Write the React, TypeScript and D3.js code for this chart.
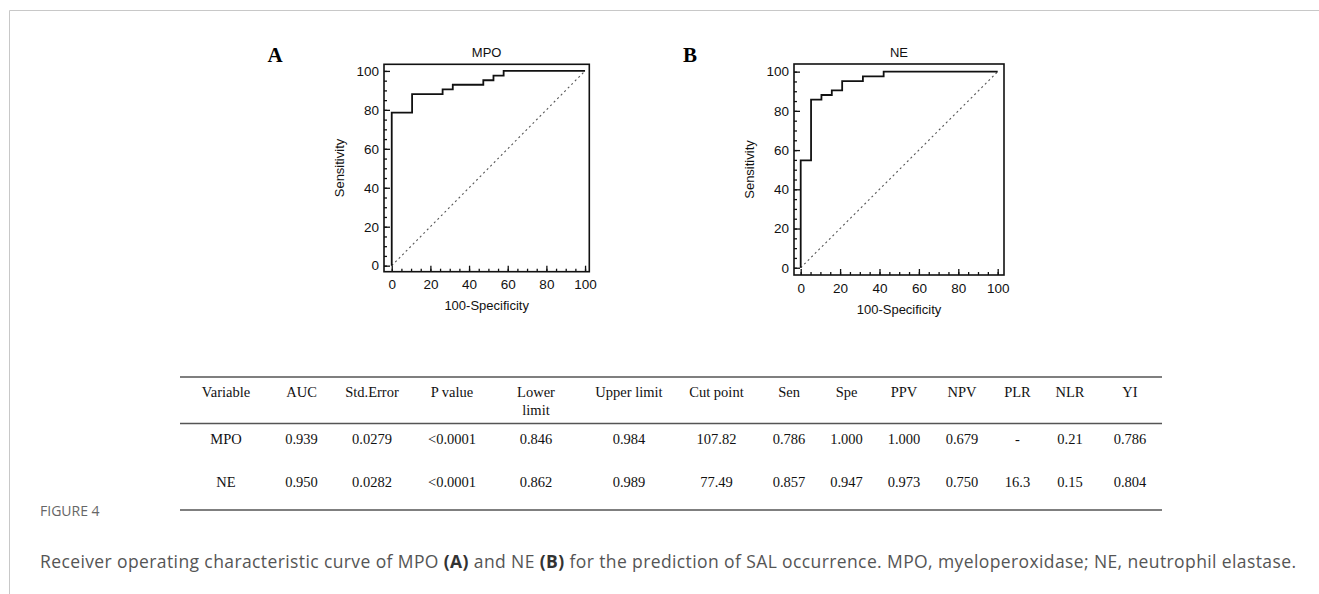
import React, { useEffect, useRef } from 'react';
import * as d3 from 'd3';

// ROC corner points (100-Specificity, Sensitivity)
const mpoFpr = [0, 0, 10.53, 26.32, 31.58, 47.37, 52.63, 57.89, 100];
const mpoSens = [0, 78.6, 88.1, 90.5, 92.9, 95.2, 97.6, 100, 100];
const neFpr = [0, 0, 5.26, 10.53, 15.79, 21.05, 31.58, 42.11, 100];
const neSens = [0, 54.8, 85.7, 88.1, 90.5, 95.2, 97.6, 100, 100];
const majorTicks = [0, 20, 40, 60, 80, 100];
const minorTicks = d3.range(0, 101, 5);

// table
const tableHeaders = ['Variable', 'AUC', 'Std.Error', 'P value', 'Lower\nlimit', 'Upper limit', 'Cut point',
  'Sen', 'Spe', 'PPV', 'NPV', 'PLR', 'NLR', 'YI'];
const mpoRow = ['MPO', '0.939', '0.0279', '<0.0001', '0.846', '0.984', '107.82', '0.786', '1.000', '1.000', '0.679', '-', '0.21', '0.786'];
const neRow = ['NE', '0.950', '0.0282', '<0.0001', '0.862', '0.989', '77.49', '0.857', '0.947', '0.973', '0.750', '16.3', '0.15', '0.804'];

const App = () => {
  const ref = useRef(null);

  useEffect(() => {
    const svg = d3.select(ref.current);
    svg.selectAll('*').remove();

    // page frame
    svg.append('path').attr('d', 'M9.5,594V10.5H1319').attr('fill', 'none').attr('stroke', '#c8c8c8').attr('stroke-width', 1);

    const panels = [
      { title: 'MPO', letter: 'A', lx: 275, fpr: mpoFpr, sens: mpoSens,
        xd: [-4, 102.2], xr: [384, 589.3], yd: [-3.1, 103.4], yr: [271.7, 64.3] },
      { title: 'NE', letter: 'B', lx: 690, fpr: neFpr, sens: neSens,
        xd: [-3.4, 103.2], xr: [794, 1004], yd: [-3.7, 103.9], yr: [275, 64] },
    ];

    panels.forEach((p) => {
      const x = d3.scaleLinear().domain(p.xd).range(p.xr);
      const y = d3.scaleLinear().domain(p.yd).range(p.yr);
      const g = svg.append('g');
      const font = 'Liberation Sans, Arial, sans-serif';

      // minor ticks
      g.append('g').attr('transform', `translate(0,${p.yr[0]})`)
        .call(d3.axisBottom(x).tickValues(minorTicks).tickSize(-3).tickFormat(() => ''))
        .call((a) => a.select('.domain').remove());
      g.append('g').attr('transform', `translate(${p.xr[0]},0)`)
        .call(d3.axisLeft(y).tickValues(minorTicks).tickSize(-3).tickFormat(() => ''))
        .call((a) => a.select('.domain').remove());
      // major ticks
      const xa = g.append('g').attr('transform', `translate(0,${p.yr[0]})`)
        .call(d3.axisBottom(x).tickValues(majorTicks).tickSize(-6).tickPadding(8));
      const ya = g.append('g').attr('transform', `translate(${p.xr[0]},0)`)
        .call(d3.axisLeft(y).tickValues(majorTicks).tickSize(-6).tickPadding(5));
      [xa, ya].forEach((a) => {
        a.select('.domain').remove();
        a.selectAll('text').attr('font-size', 13.5).attr('font-family', font).attr('fill', '#111');
      });
      g.selectAll('.tick line').attr('stroke', '#111').attr('stroke-width', 1.3);

      // frame
      g.append('rect').attr('x', p.xr[0]).attr('y', p.yr[1])
        .attr('width', p.xr[1] - p.xr[0]).attr('height', p.yr[0] - p.yr[1])
        .attr('fill', 'none').attr('stroke', '#111').attr('stroke-width', 1.6);

      // diagonal
      g.append('line').attr('x1', x(0)).attr('y1', y(0)).attr('x2', x(100)).attr('y2', y(100))
        .attr('stroke', '#555').attr('stroke-width', 1.1).attr('stroke-dasharray', '2,3');

      // ROC curve
      const line = d3.line().x((d) => x(d[0])).y((d) => y(d[1])).curve(d3.curveStepAfter);
      g.append('path').datum(p.fpr.map((f, i) => [f, p.sens[i]]))
        .attr('d', line).attr('fill', 'none').attr('stroke', '#111').attr('stroke-width', 1.8);

      const cx = (p.xr[0] + p.xr[1]) / 2;
      const cy = (p.yr[0] + p.yr[1]) / 2;
      g.append('text').attr('x', cx).attr('y', 52).attr('text-anchor', 'middle').attr('dominant-baseline', 'central')
        .attr('font-size', 13).attr('font-family', font).attr('fill', '#111').text(p.title);
      g.append('text').attr('x', cx).attr('y', p.yr[0] + 34).attr('text-anchor', 'middle').attr('dominant-baseline', 'central')
        .attr('font-size', 13).attr('font-family', font).attr('fill', '#111').text('100-Specificity');
      g.append('text').attr('transform', `translate(${p.xr[0] - 45},${cy}) rotate(-90)`)
        .attr('text-anchor', 'middle').attr('dominant-baseline', 'central')
        .attr('font-size', 13).attr('font-family', font).attr('fill', '#111').text('Sensitivity');
      g.append('text').attr('x', p.lx).attr('y', 55).attr('text-anchor', 'middle').attr('dominant-baseline', 'central')
        .attr('font-size', 21).attr('font-weight', 'bold').attr('font-family', 'Liberation Serif, Times New Roman, serif')
        .attr('fill', '#000').text(p.letter);
    });

    // table
    const colX = [226, 301.5, 372, 452, 536, 629, 716.5, 789, 846.5, 904, 962, 1017.5, 1070, 1130];
    const tfont = 'Liberation Serif, Times New Roman, serif';
    const tg = svg.append('g').attr('font-family', tfont).attr('font-size', 14.5).attr('fill', '#111');
    [377, 423.5, 510].forEach((ly) => {
      tg.append('line').attr('x1', 180).attr('x2', 1162).attr('y1', ly).attr('y2', ly)
        .attr('stroke', '#555').attr('stroke-width', 1.4);
    });
    tableHeaders.forEach((h, i) => {
      h.split('\n').forEach((s, j) => {
        tg.append('text').attr('x', colX[i]).attr('y', 392 + j * 18).attr('text-anchor', 'middle')
          .attr('dominant-baseline', 'central').text(s);
      });
    });
    [mpoRow, neRow].forEach((row, r) => {
      row.forEach((v, i) => {
        tg.append('text').attr('x', colX[i]).attr('y', 439 + r * 43).attr('text-anchor', 'middle')
          .attr('dominant-baseline', 'central').text(v);
      });
    });

    // caption
    const cfont = 'Open Sans, Lato, sans-serif';
    svg.append('text').attr('x', 40).attr('y', 516).attr('font-family', cfont).attr('font-size', 14)
      .attr('fill', '#666').text('FIGURE 4');
    const cap = svg.append('text').attr('x', 40).attr('y', 568).attr('font-family', cfont).attr('font-size', 17.5)
      .attr('fill', '#555').attr('textLength', 1256).attr('lengthAdjust', 'spacing');
    cap.append('tspan').text('Receiver operating characteristic curve of MPO ');
    cap.append('tspan').attr('font-weight', 'bold').attr('fill', '#333').text('(A)');
    cap.append('tspan').text(' and NE ');
    cap.append('tspan').attr('font-weight', 'bold').attr('fill', '#333').text('(B)');
    cap.append('tspan').text(' for the prediction of SAL occurrence. MPO, myeloperoxidase; NE, neutrophil elastase.');
  }, []);

  return (
    <svg ref={ref} width={1319} height={594}
      style={{ position: 'absolute', left: 0, top: 0, background: '#fff' }} />
  );
};

export default App;
